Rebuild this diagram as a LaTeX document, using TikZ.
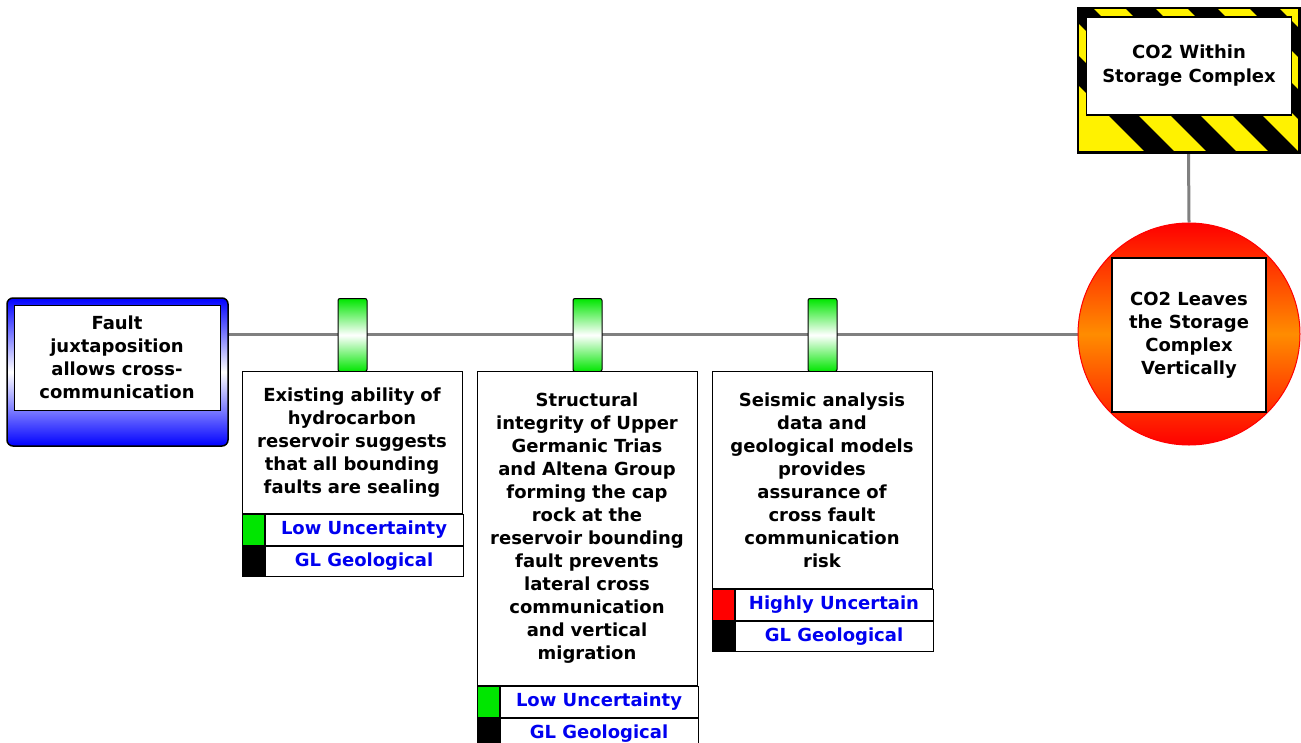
\documentclass[tikz,border=0pt]{standalone}
\usepackage{fontspec}
\setmainfont{DejaVu Sans}
\usetikzlibrary{positioning,backgrounds}

\definecolor{linegray}{RGB}{128,128,128}
\definecolor{txtblue}{RGB}{0,0,240}
\definecolor{barfill}{RGB}{0,230,0}

\tikzset{
  bt/.style={font=\bfseries\fontsize{18}{23}\selectfont},
  desc/.style={bt,draw,fill=white,line width=1pt,minimum width=220,inner sep=0pt,
    text width=216,align=center,anchor=north},
  flag/.style={draw,line width=1pt,minimum width=22,minimum height=30.5,inner sep=0pt,anchor=north west},
  tag/.style={bt,draw,fill=white,line width=1pt,minimum width=198,minimum height=30.5,inner sep=0pt,
    text=txtblue,anchor=west},
  bar/.style={draw,line width=1pt,rounded corners=2,minimum width=29,minimum height=73,inner sep=0pt,
    top color=barfill,bottom color=barfill,middle color=white,anchor=north},
  link/.style={draw=linegray,line width=3pt}
}

\begin{document}
\begin{tikzpicture}[x=1pt,y=-1pt]
\useasboundingbox (0,0) rectangle (1301,742);

% cause
\node[draw,line width=1.5pt,rounded corners=6,minimum width=221,minimum height=148,
  top color=blue,bottom color=blue,middle color=white] (causebg) at (117.5,372) {};
\node[bt,draw,fill=white,line width=1pt,minimum width=206,minimum height=105,align=center,
  inner sep=0pt] (cause) at (117,357.5) {Fault\\juxtaposition\\allows cross-\\communication};

% top event
\node[circle,draw=red,line width=1pt,minimum size=222,inner sep=0pt,
  top color=red,bottom color=red,middle color=orange!90!yellow] (top) at (1189,334) {};
\node[bt,draw,fill=white,line width=1.5pt,minimum size=154,align=center,inner sep=0pt]
  (topbox) at (1189,335) {CO2 Leaves\\the Storage\\Complex\\Vertically};

% hazard
\node[draw,line width=1.5pt,fill=yellow,minimum width=221,minimum height=144,inner sep=0pt]
  (haz) at (1188.5,80) {};
\begin{scope}
  \clip (haz.north west) rectangle (haz.south east);
  \foreach \i in {0,...,5}
    \draw[line width=21pt] (1008+\i*62,0) -- (1178+\i*62,170);
\end{scope}
\draw[line width=1.5pt] (haz.north west) rectangle (haz.south east);
\node[font=\bfseries\fontsize{18}{24}\selectfont,draw,fill=white,line width=1.5pt,minimum width=205,
  minimum height=98,align=center,inner sep=0pt] (hazbox) at (1189,66) {CO2 Within\\Storage Complex};

% barriers
\node[bar] (b1) at (352.5,298) {};
\node[bar] (b2) at (587.5,298) {};
\node[bar] (b3) at (822.5,298) {};

\node[desc,minimum height=142] (d1) at (352,371)
  {Existing ability of\\hydrocarbon\\reservoir suggests\\that all bounding\\faults are sealing};
\node[desc,minimum height=314] (d2) at (587,371)
  {Structural\\integrity of Upper\\Germanic Trias\\and Altena Group\\forming the cap\\rock at the\\reservoir bounding\\fault prevents\\lateral cross\\communication\\and vertical\\migration};
\node[desc,minimum height=217] (d3) at (822,371)
  {Seismic analysis\\data and\\geological models\\provides\\assurance of\\cross fault\\communication\\risk};

% ratings
\node[flag,fill=barfill] (f1a) at (d1.south west) {};
\node[tag] (t1a) at (f1a.east) {Low Uncertainty};
\node[flag,fill=black] (f1b) at (f1a.south west) {};
\node[tag] (t1b) at (f1b.east) {GL Geological};

\node[flag,fill=barfill] (f2a) at (d2.south west) {};
\node[tag] (t2a) at (f2a.east) {Low Uncertainty};
\node[flag,fill=black] (f2b) at (f2a.south west) {};
\node[tag] (t2b) at (f2b.east) {GL Geological};

\node[flag,fill=red] (f3a) at (d3.south west) {};
\node[tag] (t3a) at (f3a.east) {Highly Uncertain};
\node[flag,fill=black] (f3b) at (f3a.south west) {};
\node[tag] (t3b) at (f3b.east) {GL Geological};

% connectors
\begin{pgfonlayer}{background}
  \draw[link] (causebg.east |- top.west) -- (top.west);
  \draw[link] (haz.south) -- (top.north);
\end{pgfonlayer}
\end{tikzpicture}
\end{document}
